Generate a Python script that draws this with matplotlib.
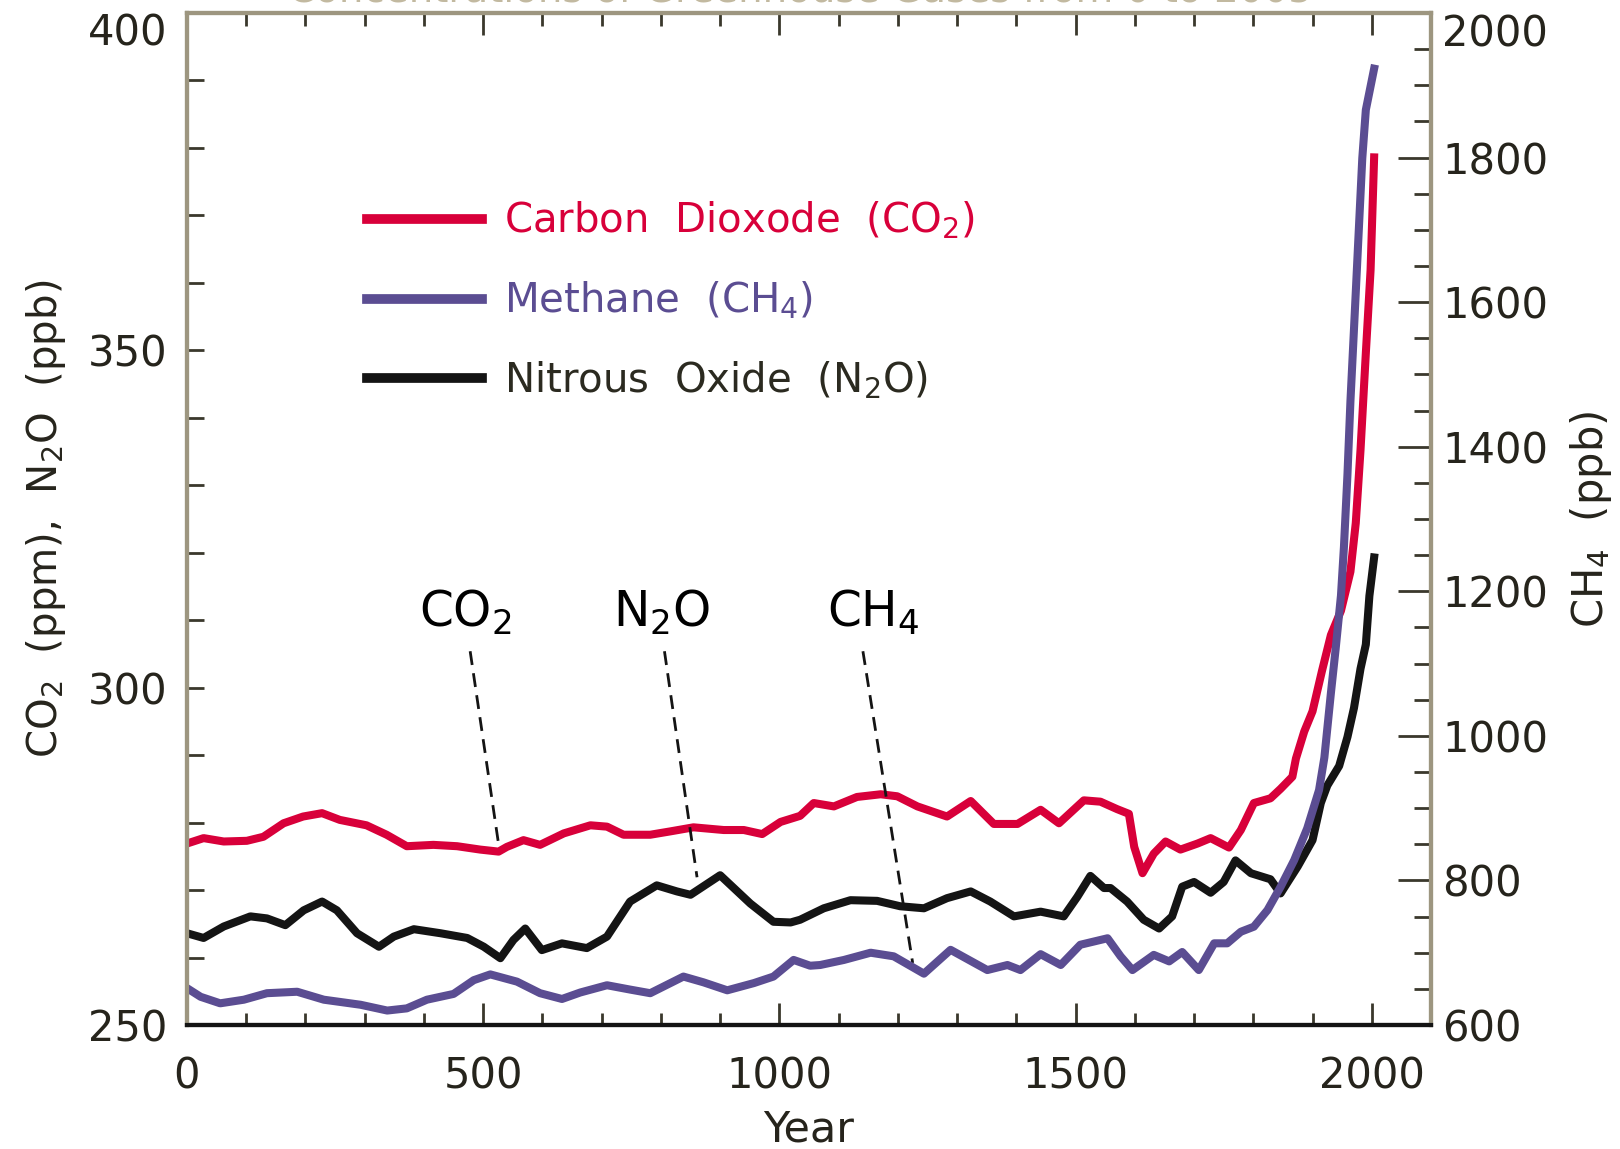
import matplotlib.pyplot as plt
from matplotlib.ticker import MultipleLocator

# CO2 (ppm)
co2_year = [0, 28, 62, 101, 129, 163, 196, 228, 258, 303, 337, 371, 416, 456, 495, 526,
            540, 568, 596, 636, 681, 709, 737, 782, 816, 855, 906, 940, 971, 1002, 1035,
            1058, 1092, 1131, 1171, 1199, 1233, 1283, 1323, 1362, 1402, 1441, 1472, 1514,
            1542, 1570, 1590, 1599, 1613, 1632, 1652, 1677, 1706, 1728, 1759, 1779, 1801,
            1829, 1846, 1866, 1872, 1886, 1900, 1916, 1931, 1948, 1964, 1973, 1981, 1990,
            1998, 2004]
co2_ppm = [276.9, 277.7, 277.2, 277.3, 277.9, 279.9, 280.9, 281.4, 280.4, 279.6, 278.2,
           276.5, 276.7, 276.5, 276.0, 275.7, 276.4, 277.4, 276.7, 278.4, 279.6, 279.4,
           278.2, 278.2, 278.7, 279.3, 278.9, 278.9, 278.3, 280.1, 281.0, 282.9, 282.4,
           283.8, 284.2, 283.9, 282.4, 280.9, 283.2, 279.8, 279.8, 281.9, 279.9, 283.3,
           283.1, 282.0, 281.3, 276.4, 272.5, 275.4, 277.2, 276.0, 276.9, 277.7, 276.3,
           278.9, 282.9, 283.6, 285.0, 286.8, 289.5, 293.5, 296.5, 302.5, 307.8, 311.4,
           317.2, 324.4, 335.2, 349.6, 361.9, 378.6]

# N2O (ppb), left axis
n2o_year = [0, 28, 62, 107, 135, 166, 197, 228, 253, 287, 324, 349, 383, 428, 473, 501,
            529, 551, 571, 599, 633, 675, 709, 748, 793, 827, 850, 900, 951, 990, 1019,
            1035, 1075, 1120, 1165, 1204, 1244, 1283, 1323, 1356, 1396, 1441, 1480, 1503,
            1525, 1548, 1559, 1587, 1615, 1641, 1663, 1680, 1700, 1728, 1750, 1770, 1796,
            1829, 1846, 1875, 1900, 1914, 1925, 1945, 1959, 1970, 1981, 1990, 1996, 2004]
n2o_ppb = [263.6, 262.9, 264.6, 266.1, 265.8, 264.8, 267.0, 268.3, 267.0, 263.6, 261.6,
           263.1, 264.2, 263.6, 262.9, 261.6, 259.9, 262.6, 264.3, 261.1, 262.1, 261.4,
           263.1, 268.3, 270.7, 269.8, 269.3, 272.2, 268.0, 265.3, 265.2, 265.6, 267.3,
           268.5, 268.4, 267.6, 267.3, 268.8, 269.8, 268.3, 266.1, 266.8, 266.1, 269.0,
           272.1, 270.3, 270.3, 268.3, 265.6, 264.3, 266.1, 270.5, 271.2, 269.6, 271.2,
           274.4, 272.5, 271.6, 269.5, 273.5, 277.4, 282.9, 285.5, 288.4, 292.7, 297.0,
           302.8, 306.4, 313.6, 319.3]

# CH4 (ppb), right axis
ch4_year = [0, 23, 56, 96, 135, 186, 231, 293, 338, 371, 405, 450, 484, 512, 557, 596,
            633, 664, 709, 748, 782, 838, 872, 912, 957, 990, 1024, 1052, 1069, 1109, 1154,
            1193, 1244, 1289, 1351, 1385, 1407, 1441, 1475, 1508, 1554, 1576, 1596, 1632,
            1658, 1680, 1708, 1734, 1756, 1779, 1801, 1824, 1846, 1869, 1891, 1911, 1920,
            1931, 1939, 1948, 1953, 1959, 1964, 1970, 1978, 1984, 1990, 2004]
ch4_ppb = [651, 639, 630, 635, 644, 646, 635, 628, 620, 623, 635, 643, 662, 670, 660, 644,
           636, 645, 655, 649, 644, 667, 659, 648, 658, 667, 690, 682, 683, 690, 700, 695,
           671, 704, 676, 683, 676, 698, 683, 711, 720, 695, 676, 697, 688, 701, 676, 713,
           713, 729, 736, 759, 791, 828, 872, 925, 970, 1059, 1120, 1194, 1261, 1362, 1463,
           1563, 1698, 1799, 1866, 1923]

# leader labels: name, label position (year, ppm), line start, line end
labels = [r'$\mathregular{CO_2}$', r'$\mathregular{N_2O}$', r'$\mathregular{CH_4}$']
label_pos = [(470, 311.1), (801, 311.1), (1159, 311.1)]
leader_start = [(478, 305.4), (806, 305.4), (1141, 305.4)]
leader_end = [(527, 276.2), (861, 271.9), (1225, 259.2)]

red = '#d8003a'
purple = '#5b4d92'
black = '#141414'
txt = '#26241c'
spine_col = '#9d9680'

fig = plt.figure(figsize=(16.2, 11.49), dpi=100)
ax = fig.add_axes([187 / 1620, 1 - 1025 / 1149, 1244 / 1620, 1012 / 1149])
ax2 = ax.twinx()

l1, = ax.plot(co2_year, co2_ppm, color=red, lw=5.8, solid_joinstyle='round',
              label=r'Carbon  Dioxode  ($\mathregular{CO_2}$)')
l3, = ax.plot(n2o_year, n2o_ppb, color=black, lw=5.8, solid_joinstyle='round',
              label=r'Nitrous  Oxide  ($\mathregular{N_2O}$)')
l2, = ax2.plot(ch4_year, ch4_ppb, color=purple, lw=5.8, solid_joinstyle='round',
               label=r'Methane  ($\mathregular{CH_4}$)')

ax.set_xlim(0, 2100)
ax.set_ylim(250, 400)
ax2.set_ylim(600, 2000)

# leader lines and labels
for name, (tx, ty), (x0, y0), (x1, y1) in zip(labels, label_pos, leader_start, leader_end):
    ax.plot([x0, x1], [y0, y1], color=black, lw=2, linestyle=(0, (5, 3)))
    ax.text(tx, ty, name, fontsize=35, color='black', ha='center', va='center')

# ticks
ax.xaxis.set_major_locator(MultipleLocator(500))
ax.xaxis.set_minor_locator(MultipleLocator(100))
ax.yaxis.set_major_locator(MultipleLocator(50))
ax.yaxis.set_minor_locator(MultipleLocator(10))
ax2.yaxis.set_major_locator(MultipleLocator(200))
ax2.yaxis.set_minor_locator(MultipleLocator(50))

ax.tick_params(axis='x', which='both', direction='in', top=True, color='#3a382c',
               labelsize=30, labelcolor=txt, pad=22)
ax.tick_params(axis='x', which='major', length=16, width=2)
ax.tick_params(axis='x', which='minor', length=9, width=2)
ax.tick_params(axis='y', which='both', direction='in', right=False, color='#3a382c',
               labelsize=30, labelcolor=txt, pad=14)
ax.tick_params(axis='y', which='major', length=12, width=2)
ax.tick_params(axis='y', which='minor', length=12, width=2)
ax2.tick_params(axis='y', which='both', direction='in', color='#3a382c',
                labelsize=30, labelcolor=txt, pad=8)
ax2.tick_params(axis='y', which='major', length=24, width=2)
ax2.tick_params(axis='y', which='minor', length=12, width=2)

for a in (ax, ax2):
    for s in ('left', 'right', 'top'):
        a.spines[s].set_color(spine_col)
        a.spines[s].set_linewidth(3)
    a.spines['bottom'].set_color(black)
    a.spines['bottom'].set_linewidth(3)

ax.set_xlabel('Year', fontsize=31, color=txt, labelpad=8)
ax.set_ylabel(r'$\mathregular{CO_2}$  (ppm),  $\mathregular{N_2O}$  (ppb)', fontsize=29,
              color=txt, labelpad=14)
ax2.set_ylabel(r'$\mathregular{CH_4}$  (ppb)', fontsize=30, color=txt, labelpad=14)

leg = ax2.legend(handles=[l1, l2, l3], loc='upper left', bbox_to_anchor=(0.1447, 0.815),
                 frameon=False, fontsize=29, handlelength=2.85, handletextpad=0.55,
                 labelspacing=0.95, borderpad=0, borderaxespad=0)
for t, c in zip(leg.get_texts(), [red, purple, '#2b2a20']):
    t.set_color(c)
for h in leg.get_lines():
    h.set_linewidth(7)

# title is mostly cut off at the top of the image, as in the source
fig.text(0.494, 1 - 2 / 1149, 'Concentrations of Greenhouse Gases from 0 to 2005',
         ha='center', va='baseline', fontsize=28, color='#c2b9a0')

# the topmost tick labels sit below their ticks
fig.canvas.draw()
for a, top in ((ax, 400), (ax2, 2000)):
    for tick in a.yaxis.get_major_ticks():
        if abs(tick.get_loc() - top) < 1e-6:
            tick.label1.set_verticalalignment('top')
            tick.label2.set_verticalalignment('top')

fig.savefig('out.png', dpi=100)
